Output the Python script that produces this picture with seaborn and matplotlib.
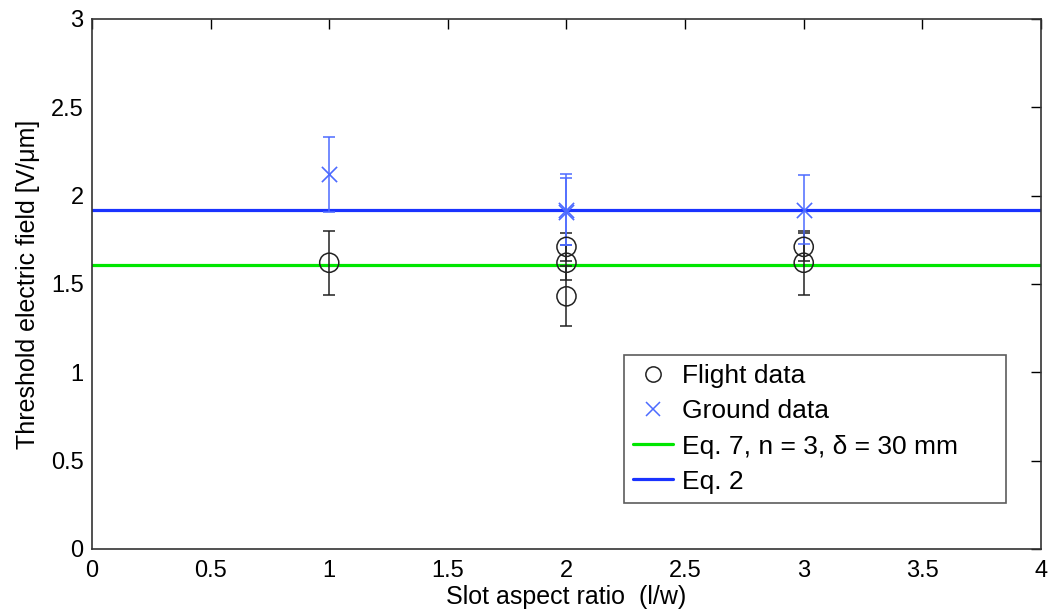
import numpy as np
import pandas as pd
import matplotlib
matplotlib.use("Agg")
import matplotlib.pyplot as plt
import seaborn as sns
from matplotlib.lines import Line2D

# flight data (slot aspect ratio, threshold field, error)
flight_x = [1, 2, 2, 2, 3, 3]
flight_y = [1.62, 1.71, 1.62, 1.43, 1.71, 1.62]
flight_err = [0.18, 0.08, 0.10, 0.17, 0.08, 0.18]

# ground data
ground_x = [1, 2, 2, 3]
ground_y = [2.12, 1.92, 1.91, 1.92]
ground_err = [0.21, 0.20, 0.19, 0.195]

# model predictions
eq7_value = 1.61
eq2_value = 1.92

x_ticks = [0, 0.5, 1, 1.5, 2, 2.5, 3, 3.5, 4]
y_ticks = [0, 0.5, 1, 1.5, 2, 2.5, 3]

flight = pd.DataFrame({"ratio": flight_x, "field": flight_y, "err": flight_err})
ground = pd.DataFrame({"ratio": ground_x, "field": ground_y, "err": ground_err})

sns.set_style("white")
plt.rcParams["font.family"] = ["Liberation Sans", "DejaVu Sans"]
plt.rcParams["text.color"] = "black"
plt.rcParams["axes.labelcolor"] = "black"
plt.rcParams["xtick.color"] = "black"
plt.rcParams["ytick.color"] = "black"

fig = plt.figure(figsize=(10.5, 6.11), dpi=100)
ax = fig.add_axes([0.0876, 0.1015, 0.9038, 0.8675])

green = "#00e600"
blue = "#1a33ff"
light_blue = "#4d6bff"

ax.axhline(eq7_value, color=green, lw=2.3, zorder=1)
ax.axhline(eq2_value, color=blue, lw=2.3, zorder=1)

ax.errorbar(flight["ratio"], flight["field"], yerr=flight["err"], fmt="none",
            ecolor="#222222", elinewidth=1.1, capsize=4, capthick=1.1, zorder=2)
ax.errorbar(ground["ratio"], ground["field"], yerr=ground["err"], fmt="none",
            ecolor=light_blue, elinewidth=1.1, capsize=4, capthick=1.1, zorder=2)

sns.scatterplot(data=flight, x="ratio", y="field", ax=ax, marker="o", s=190,
                facecolors="none", edgecolor="#222222", linewidth=1.1, zorder=3)
sns.scatterplot(data=ground, x="ratio", y="field", ax=ax, marker="x", s=120,
                color=light_blue, linewidth=1.2, zorder=3)

ax.set_xlim(0, 4)
ax.set_ylim(0, 3)
ax.set_xticks(x_ticks)
ax.set_xticklabels([f"{t:g}" for t in x_ticks])
ax.set_yticks(y_ticks)
ax.set_yticklabels([f"{t:g}" for t in y_ticks])
ax.tick_params(direction="in", length=7, width=1, top=True, right=True,
               labelsize=17, pad=6)
ax.tick_params(axis="x", pad=8)
for sp in ax.spines.values():
    sp.set_color("#333333")
    sp.set_linewidth(1.2)

ax.set_xlabel("Slot aspect ratio  (l/w)", fontsize=18, labelpad=2)
ax.set_ylabel("Threshold electric field [V/\u03bcm]", fontsize=18, labelpad=8)

handles = [
    Line2D([], [], ls="none", marker="o", mfc="none", mec="#222222", ms=11, mew=1.1),
    Line2D([], [], ls="none", marker="x", color=light_blue, ms=10, mew=1.1),
    Line2D([], [], color=green, lw=2.3),
    Line2D([], [], color=blue, lw=2.3),
]
labels = ["Flight data", "Ground data", "Eq. 7, n = 3, \u03b4 = 30 mm", "Eq. 2"]
leg = ax.legend(handles, labels, loc="lower left",
                bbox_to_anchor=(0.5606, 0.087, 0.4025, 0.2), mode="expand",
                fontsize=19, frameon=True, fancybox=False, handlelength=1.5,
                handletextpad=0.35, borderpad=0.35, labelspacing=0.42,
                borderaxespad=0)
leg.get_frame().set_edgecolor("#333333")
leg.get_frame().set_linewidth(1.2)

fig.savefig("out.png", dpi=100)
